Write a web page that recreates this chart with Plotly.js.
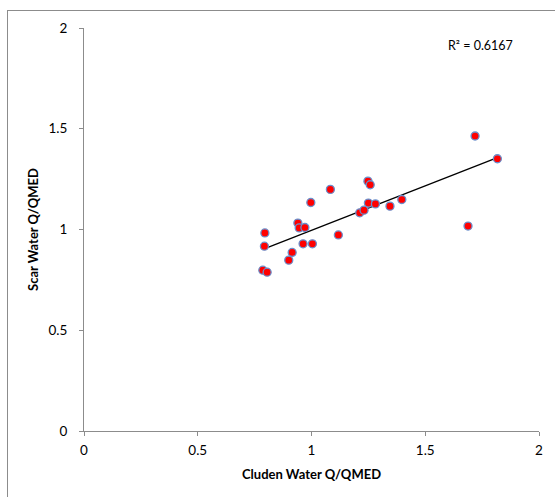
<!DOCTYPE html>
<html>
<head>
<meta charset="utf-8">
<script src="https://cdn.plot.ly/plotly-3.0.1.min.js"></script>
<style>
  html, body { margin: 0; padding: 0; background: #fff; }
  #frame { position: absolute; left: 7px; top: 10px; width: 560px; height: 500px; border: 1px solid #8c8c8c; box-sizing: border-box; }
  #chart { position: absolute; left: 0; top: 0; width: 555px; height: 497px; }
</style>
</head>
<body>
<div id="frame"></div>
<div id="chart"></div>
<script>
// Paired flood peaks, each normalised by its catchment's QMED
const cludenQ = [0.786, 0.805, 0.795, 0.793, 0.900, 0.915, 0.940, 0.946, 0.971, 0.963,
                 1.004, 0.997, 1.083, 1.118, 1.212, 1.231, 1.250, 1.281, 1.248, 1.258,
                 1.345, 1.397, 1.719, 1.817, 1.688];
const scarQ   = [0.798, 0.788, 0.983, 0.917, 0.848, 0.886, 1.032, 1.008, 1.010, 0.929,
                 0.929, 1.134, 1.199, 0.973, 1.083, 1.096, 1.131, 1.127, 1.240, 1.222,
                 1.116, 1.149, 1.464, 1.351, 1.017];
const tickVals = [0, 0.5, 1, 1.5, 2];
const tickText = ['0', '0.5', '1', '1.5', '2'];
const r2Label = 'R² = 0.6167';

// Least-squares linear trendline over the data range
function linearFit(xs, ys) {
  const n = xs.length;
  const mx = xs.reduce((a, b) => a + b, 0) / n;
  const my = ys.reduce((a, b) => a + b, 0) / n;
  let sxy = 0, sxx = 0;
  for (let i = 0; i < n; i++) { sxy += (xs[i] - mx) * (ys[i] - my); sxx += (xs[i] - mx) ** 2; }
  const slope = sxy / sxx;
  return { slope, intercept: my - slope * mx };
}
const fit = linearFit(cludenQ, scarQ);
const xMin = Math.min(...cludenQ), xMax = Math.max(...cludenQ);
const trendX = [xMin, xMax];
const trendY = trendX.map(x => fit.intercept + fit.slope * x);

const font = 'Lato, "Open Sans", sans-serif';

const traces = [
  {
    x: trendX, y: trendY, type: 'scatter', mode: 'lines',
    line: { color: '#000000', width: 1.3 }, hoverinfo: 'skip'
  },
  {
    x: cludenQ, y: scarQ, type: 'scatter', mode: 'markers',
    marker: { color: '#ff0000', size: 8, line: { color: '#6a8fcc', width: 1.3 } }
  }
];

const axisCommon = {
  range: [0, 2], tickvals: tickVals, ticktext: tickText,
  showgrid: false, zeroline: false, showline: true,
  linecolor: '#8c8c8c', linewidth: 1,
  ticks: 'outside', ticklen: 4, tickcolor: '#8c8c8c', tickwidth: 1,
  tickfont: { family: font, size: 13.5, color: '#000' },
  fixedrange: true
};

const layout = {
  width: 555, height: 497,
  margin: { l: 84, r: 16, t: 28, b: 66 },
  paper_bgcolor: 'rgba(0,0,0,0)', plot_bgcolor: 'rgba(0,0,0,0)',
  showlegend: false,
  xaxis: Object.assign({}, axisCommon, {
    ticklabelstandoff: 3,
    title: { text: '<b>Cluden Water Q/QMED</b>', font: { family: font, size: 13, color: '#000' }, standoff: 12 }
  }),
  yaxis: Object.assign({}, axisCommon, {
    ticklabelstandoff: 9,
    title: { text: '<b>Scar Water Q/QMED</b>', font: { family: font, size: 13, color: '#000' }, standoff: 6 }
  }),
  annotations: [{
    x: 1.741, y: 1.915, xref: 'x', yref: 'y', text: r2Label, showarrow: false,
    font: { family: font, size: 12.5, color: '#000' }
  }]
};

Plotly.newPlot('chart', traces, layout, { staticPlot: true, displayModeBar: false });
</script>
</body>
</html>
